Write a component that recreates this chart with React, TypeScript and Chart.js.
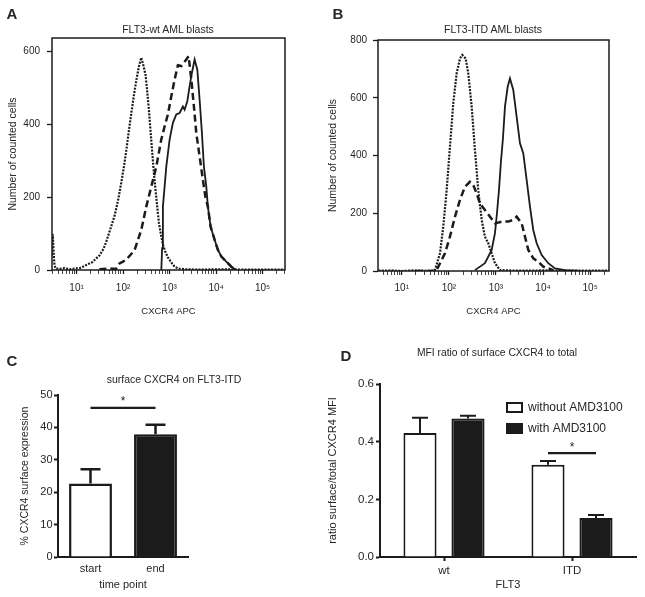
import React, { useEffect, useRef } from 'react';
import { Chart, registerables } from 'chart.js';

Chart.register(...registerables);

const FONT = "'Liberation Sans', Arial, Helvetica, sans-serif";
const INK = '#1b1b1b';
const TEXT = '#262626';
Chart.defaults.font.family = FONT;
Chart.defaults.color = TEXT;

// ---------- Panel A: FLT3-wt AML blasts (x = CXCR4 APC intensity, y = counted cells) ----------
const wtIsotypeX = [2.96, 3.08, 3.2, 3.35, 3.6, 4.3, 5.5, 7.1, 9.1, 11.6, 13.6, 22, 31, 38, 44, 54, 66, 79, 93, 106, 119, 134, 150, 170, 192, 218, 246, 275, 305, 330, 359, 390, 425, 460, 500, 545, 589, 650, 718, 810, 918, 1100, 1282, 1600, 2104, 4400, 12000, 50000, 300000];
const wtIsotypeY = [40, 98, 50, 12, 4, 3, 5, 2, 4, 5, 9, 22, 40, 58, 80, 115, 150, 195, 245, 290, 335, 385, 430, 478, 520, 558, 583, 560, 535, 490, 440, 380, 320, 265, 218, 170, 130, 98, 70, 50, 35, 20, 9, 4, 2, 1, 2, 1, 1];
const wtDashedX = [31, 51, 70, 84, 117, 177, 246, 315, 404, 518, 662, 780, 918, 1088, 1282, 1508, 1785, 2286, 2563, 2930, 3334, 3750, 4416, 5200, 5860, 6650, 7620, 9290, 10940, 12950, 16570, 21210, 27170];
const wtDashedY = [2, 4, 3, 18, 28, 55, 110, 174, 229, 284, 358, 394, 427, 477, 523, 562, 560, 578, 587, 523, 449, 376, 312, 248, 202, 174, 119, 83, 55, 37, 23, 9, 0];
const wtSolidX = [664, 690, 718, 849, 1000, 1178, 1393, 1641, 1933, 2104, 2403, 2693, 3017, 3451, 3945, 4416, 4955, 5470, 6152, 6650, 7620, 9290, 10940, 12950, 16570, 21210, 27170];
const wtSolidY = [0, 60, 174, 284, 358, 404, 427, 431, 449, 440, 463, 505, 541, 578, 550, 468, 376, 284, 229, 174, 119, 83, 55, 37, 23, 9, 0];

// ---------- Panel B: FLT3-ITD AML blasts ----------
const itdIsotypeX = [3.2, 6, 10, 18, 30, 46, 50.7, 64.7, 76, 89.8, 105.4, 124, 146.5, 172, 192.8, 227.5, 258, 305, 358, 421, 497, 583, 687, 811, 953, 1216, 3000, 10000, 50000, 250000];
const itdIsotypeY = [1, 2, 0, 2, 1, 0, 3, 61, 153, 280, 430, 581, 685, 736, 748, 736, 685, 569, 419, 280, 177, 119, 96, 61, 27, 3, 1, 2, 1, 1];
const itdDashedX = [20, 40, 55, 82.6, 105.4, 134.9, 172, 219.6, 280.5, 329.6, 389, 457, 583, 747, 953, 1322, 1824, 2328, 2748, 3514, 4130, 4853, 6199, 7907, 10090, 12880, 16480];
const itdDashedY = [0, 0, 3, 61, 119, 188, 246, 292, 309, 298, 269, 234, 211, 188, 165, 171, 171, 177, 188, 165, 119, 73, 44, 32, 15, 9, 3];
const itdSolidX = [358, 583, 811, 953, 1050, 1158, 1277, 1408, 1553, 1772, 1983, 2330, 2751, 3233, 3798, 4486, 5273, 6195, 7313, 9339, 12895, 17890, 29170, 60740];
const itdSolidY = [3, 27, 73, 131, 200, 280, 380, 460, 569, 638, 667, 627, 534, 442, 408, 315, 223, 142, 96, 55, 27, 9, 3, 0];

const wtCountTicks = [0, 200, 400, 600];
const itdCountTicks = [0, 200, 400, 600, 800];
const SUPERSCRIPT: Record<number, string> = { 1: '¹', 2: '²', 3: '³', 4: '⁴', 5: '⁵' };

// ---------- Panel C: surface CXCR4 on FLT3-ITD ----------
const timePoints = ['start', 'end'];
const surfaceExpression = [22.7, 37.9];
const surfaceExpressionSem = [4.4, 2.9];
const surfaceTicks = [0, 10, 20, 30, 40, 50];
const surfaceSignificance = 46;

// ---------- Panel D: MFI ratio of surface CXCR4 to total ----------
const flt3Groups = ['wt', 'ITD'];
const ratioWithout = [0.43, 0.32];
const ratioWithoutSem = [0.053, 0.013];
const ratioWith = [0.48, 0.135];
const ratioWithSem = [0.01, 0.011];
const ratioTicks = [0, 0.2, 0.4, 0.6];
const ratioSignificance = 0.36;

type XY = { x: number; y: number };
const zip = (xs: number[], ys: number[]): XY[] => xs.map((x, i) => ({ x, y: ys[i] }));

function logTickValues(min: number, max: number) {
  const out: { value: number; major: boolean }[] = [];
  for (let n = 0; n <= 6; n++) {
    for (let k = 1; k <= 9; k++) {
      const v = k * Math.pow(10, n);
      if (v >= min && v <= max) out.push({ value: v, major: k === 1 });
    }
  }
  return out;
}

const framePlugin = {
  id: 'frame',
  afterDatasetsDraw(chart: any) {
    const { ctx, chartArea } = chart;
    const { left, top, right, bottom } = chartArea;
    ctx.save();
    ctx.strokeStyle = INK;
    ctx.lineWidth = 1.5;
    ctx.strokeRect(left, top, right - left, bottom - top);
    ctx.restore();
  },
};

const errorBarPlugin = {
  id: 'errorBars',
  afterDatasetsDraw(chart: any, _args: any, opts: any) {
    const { ctx } = chart;
    const y = chart.scales.y;
    chart.data.datasets.forEach((ds: any, di: number) => {
      if (!ds.errors) return;
      const meta = chart.getDatasetMeta(di);
      meta.data.forEach((bar: any, i: number) => {
        const v = ds.data[i];
        const base = y.getPixelForValue(v);
        const top = y.getPixelForValue(v + ds.errors[i]);
        ctx.save();
        ctx.strokeStyle = INK;
        ctx.lineWidth = opts.width;
        ctx.beginPath();
        ctx.moveTo(bar.x, base);
        ctx.lineTo(bar.x, top);
        ctx.moveTo(bar.x - opts.cap / 2, top);
        ctx.lineTo(bar.x + opts.cap / 2, top);
        ctx.stroke();
        ctx.restore();
      });
    });
  },
};

const significancePlugin = {
  id: 'significance',
  afterDatasetsDraw(chart: any, _args: any, opts: any) {
    const { ctx } = chart;
    const y = chart.scales.y;
    (opts.brackets || []).forEach((b: any) => {
      const e1 = chart.getDatasetMeta(b.a[0]).data[b.a[1]];
      const e2 = chart.getDatasetMeta(b.b[0]).data[b.b[1]];
      const py = y.getPixelForValue(b.value);
      ctx.save();
      ctx.strokeStyle = INK;
      ctx.lineWidth = opts.lineWidth;
      ctx.beginPath();
      ctx.moveTo(e1.x, py);
      ctx.lineTo(e2.x, py);
      ctx.stroke();
      ctx.fillStyle = TEXT;
      ctx.font = `${opts.fontSize}px ${FONT}`;
      ctx.textAlign = 'center';
      ctx.textBaseline = 'alphabetic';
      ctx.fillText(b.label, (e1.x + e2.x) / 2, py + opts.labelOffset);
      ctx.restore();
    });
  },
};

const boxLegendPlugin = {
  id: 'boxLegend',
  afterDatasetsDraw(chart: any, _args: any, opts: any) {
    const { ctx, chartArea } = chart;
    chart.data.datasets.forEach((ds: any, i: number) => {
      const x = chartArea.left + opts.x;
      const y = chartArea.top + opts.y + i * opts.rowGap;
      ctx.save();
      ctx.fillStyle = ds.backgroundColor;
      ctx.fillRect(x, y, opts.boxW, opts.boxH);
      ctx.strokeStyle = INK;
      ctx.lineWidth = 2;
      ctx.strokeRect(x + 1, y + 1, opts.boxW - 2, opts.boxH - 2);
      ctx.fillStyle = TEXT;
      ctx.font = `${opts.fontSize}px ${FONT}`;
      ctx.textAlign = 'left';
      ctx.textBaseline = 'middle';
      ctx.fillText(ds.label, x + opts.boxW + opts.gap, y + opts.boxH / 2 + 0.5);
      ctx.restore();
    });
  },
};

function histogramConfig(p: any) {
  const lineBase = { showLine: true, borderColor: INK, pointRadius: 0, tension: 0, fill: false };
  return {
    type: 'scatter',
    data: {
      datasets: [
        { ...lineBase, label: 'isotype control', data: zip(p.dotX, p.dotY), borderWidth: 2.2, borderDash: [2, 1.3] },
        { ...lineBase, label: 'CXCR4 (dashed)', data: zip(p.dashX, p.dashY), borderWidth: 2.5, borderDash: [7, 4] },
        { ...lineBase, label: 'CXCR4 (solid)', data: zip(p.solidX, p.solidY), borderWidth: 1.8 },
      ],
    },
    options: {
      responsive: false,
      animation: false,
      devicePixelRatio: 1,
      events: [],
      layout: { padding: { top: p.padTop, right: p.padRight, left: 0, bottom: 0 } },
      plugins: { legend: { display: false }, tooltip: { enabled: false }, title: { display: false } },
      scales: {
        x: {
          type: 'logarithmic',
          min: p.xMin,
          max: p.xMax,
          afterBuildTicks: (s: any) => { s.ticks = logTickValues(p.xMin, p.xMax); },
          afterFit: (s: any) => { s.height = p.xHeight; },
          border: { display: false },
          grid: {
            drawOnChartArea: false,
            drawTicks: true,
            tickLength: 4,
            tickColor: INK,
            tickWidth: (c: any) => (c.tick && c.tick.major ? 1.3 : 0.8),
          },
          ticks: {
            autoSkip: false,
            maxRotation: 0,
            minRotation: 0,
            padding: p.xTickPad,
            font: { size: 10 },
            color: TEXT,
            callback: (value: any) => {
              const v = Number(value);
              const e = Math.round(Math.log10(v));
              return Math.abs(v - Math.pow(10, e)) < 1e-6 * v && SUPERSCRIPT[e] ? '10' + SUPERSCRIPT[e] : '';
            },
          },
          title: { display: true, text: 'CXCR4 APC', font: { size: 9.5 }, color: TEXT, padding: { top: 0, bottom: 8 } },
        },
        y: {
          type: 'linear',
          min: 0,
          max: p.yMax,
          afterBuildTicks: (s: any) => { s.ticks = p.yTicks.map((v: number) => ({ value: v })); },
          afterFit: (s: any) => { s.width = p.yWidth; },
          border: { display: false },
          grid: { drawOnChartArea: false, drawTicks: true, tickLength: 5, tickColor: INK, tickWidth: 1.3 },
          ticks: { padding: p.yTickPad, font: { size: 10 }, color: TEXT },
          title: { display: true, text: 'Number of counted cells', font: { size: 10.5 }, color: TEXT, padding: { top: 7, bottom: 0 } },
        },
      },
    },
    plugins: [framePlugin],
  };
}

function surfaceConfig() {
  return {
    type: 'bar',
    data: {
      labels: timePoints,
      datasets: [
        {
          label: '% CXCR4 surface expression',
          data: surfaceExpression,
          errors: surfaceExpressionSem,
          backgroundColor: ['#ffffff', INK],
          borderColor: INK,
          borderWidth: 2.5,
          borderSkipped: 'bottom',
          barPercentage: 0.66,
          categoryPercentage: 1,
        },
      ],
    },
    options: {
      responsive: false,
      animation: false,
      devicePixelRatio: 1,
      events: [],
      layout: { padding: { top: 65, right: 132, left: 0, bottom: 0 } },
      plugins: {
        legend: { display: false },
        tooltip: { enabled: false },
        errorBars: { cap: 20, width: 2.5 },
        significance: { lineWidth: 2.2, fontSize: 12, labelOffset: -3, brackets: [{ a: [0, 0], b: [0, 1], value: surfaceSignificance, label: '*' }] },
      },
      scales: {
        x: {
          afterFit: (s: any) => { s.height = 40; },
          border: { display: true, width: 2, color: INK },
          grid: { offset: false, drawOnChartArea: false, tickLength: 4, tickColor: 'rgba(0,0,0,0)' },
          ticks: { padding: 1.5, font: { size: 11 }, color: TEXT },
          title: { display: true, text: 'time point', font: { size: 11 }, color: TEXT, padding: { top: 0, bottom: 5.4 } },
        },
        y: {
          min: 0,
          max: 50,
          afterBuildTicks: (s: any) => { s.ticks = surfaceTicks.map((v) => ({ value: v })); },
          afterFit: (s: any) => { s.width = 58; },
          border: { display: true, width: 2, color: INK },
          grid: { drawOnChartArea: false, tickLength: 4, tickColor: INK, tickWidth: 2 },
          ticks: { padding: 1.5, font: { size: 11 }, color: TEXT },
          title: { display: true, text: '% CXCR4 surface expression', font: { size: 10.5 }, color: TEXT, padding: { top: 18.7, bottom: 0 } },
        },
      },
    },
    plugins: [errorBarPlugin, significancePlugin],
  };
}

function ratioConfig() {
  const barBase = { borderColor: INK, borderWidth: 2, borderSkipped: 'bottom', barPercentage: 0.69, categoryPercentage: 0.75 };
  return {
    type: 'bar',
    data: {
      labels: flt3Groups,
      datasets: [
        { ...barBase, label: 'without AMD3100', data: ratioWithout, errors: ratioWithoutSem, backgroundColor: '#ffffff' },
        { ...barBase, label: 'with AMD3100', data: ratioWith, errors: ratioWithSem, backgroundColor: INK },
      ],
    },
    options: {
      responsive: false,
      animation: false,
      devicePixelRatio: 1,
      events: [],
      layout: { padding: { top: 54, right: 9, left: 0, bottom: 0 } },
      plugins: {
        legend: { display: false },
        tooltip: { enabled: false },
        errorBars: { cap: 16, width: 2 },
        significance: { lineWidth: 2.2, fontSize: 12, labelOffset: -2, brackets: [{ a: [0, 1], b: [1, 1], value: ratioSignificance, label: '*' }] },
        boxLegend: { x: 126, y: 18, rowGap: 21, boxW: 17, boxH: 11, gap: 5, fontSize: 12 },
      },
      scales: {
        x: {
          afterFit: (s: any) => { s.height = 40; },
          border: { display: true, width: 2, color: INK },
          grid: { offset: false, drawOnChartArea: false, tickLength: 4, tickColor: INK, tickWidth: 2 },
          ticks: { padding: 3.1, font: { size: 11.5 }, color: TEXT },
          title: { display: true, text: 'FLT3', font: { size: 11 }, color: TEXT, padding: { top: 0, bottom: 5.4 } },
        },
        y: {
          min: 0,
          max: 0.6,
          afterBuildTicks: (s: any) => { s.ticks = ratioTicks.map((v) => ({ value: v })); },
          afterFit: (s: any) => { s.width = 60; },
          border: { display: true, width: 2, color: INK },
          grid: { drawOnChartArea: false, tickLength: 4, tickColor: INK, tickWidth: 2 },
          ticks: { padding: 2, font: { size: 11.5 }, color: TEXT, callback: (v: any) => Number(v).toFixed(1) },
          title: { display: true, text: 'ratio surface/total CXCR4 MFI', font: { size: 11 }, color: TEXT, padding: { top: 6.4, bottom: 0 } },
        },
      },
    },
    plugins: [errorBarPlugin, significancePlugin, boxLegendPlugin],
  };
}

function Panel(props: { left: number; top: number; width: number; height: number; make: () => any }) {
  const ref = useRef<HTMLCanvasElement | null>(null);
  useEffect(() => {
    if (!ref.current) return;
    const chart = new Chart(ref.current, props.make());
    return () => chart.destroy();
  }, []);
  return (
    <canvas
      ref={ref}
      width={props.width}
      height={props.height}
      style={{ position: 'absolute', left: props.left, top: props.top, width: props.width, height: props.height }}
    />
  );
}

const textLabels = [
  { text: 'A', x: 12, y: 13, size: 15, bold: true },
  { text: 'B', x: 338, y: 13, size: 15, bold: true },
  { text: 'C', x: 12, y: 360, size: 15, bold: true },
  { text: 'D', x: 346, y: 355, size: 15, bold: true },
  { text: 'FLT3-wt AML blasts', x: 168, y: 29, size: 10.5, bold: false },
  { text: 'FLT3-ITD AML blasts', x: 493, y: 29, size: 10.5, bold: false },
  { text: 'surface CXCR4 on FLT3-ITD', x: 174, y: 379, size: 10.5, bold: false },
  { text: 'MFI ratio of surface CXCR4 to total', x: 497, y: 353, size: 10.3, bold: false },
];

export default function App() {
  return (
    <div style={{ position: 'fixed', left: 0, top: 0, width: 645, height: 597, background: '#ffffff', overflow: 'hidden' }}>
      <Panel
        left={0}
        top={0}
        width={320}
        height={325}
        make={() =>
          histogramConfig({
            dotX: wtIsotypeX, dotY: wtIsotypeY, dashX: wtDashedX, dashY: wtDashedY, solidX: wtSolidX, solidY: wtSolidY,
            xMin: 2.96, xMax: 303000, yMax: 637, yTicks: wtCountTicks,
            padTop: 38, padRight: 35, yWidth: 52, xHeight: 55, xTickPad: 8, yTickPad: 7,
          })
        }
      />
      <Panel
        left={320}
        top={0}
        width={325}
        height={325}
        make={() =>
          histogramConfig({
            dotX: itdIsotypeX, dotY: itdIsotypeY, dashX: itdDashedX, dashY: itdDashedY, solidX: itdSolidX, solidY: itdSolidY,
            xMin: 3.13, xMax: 251000, yMax: 800, yTicks: itdCountTicks,
            padTop: 40, padRight: 36, yWidth: 58, xHeight: 54, xTickPad: 7, yTickPad: 6,
          })
        }
      />
      <Panel left={0} top={330} width={320} height={267} make={surfaceConfig} />
      <Panel left={320} top={330} width={325} height={267} make={ratioConfig} />
      {textLabels.map((t) => (
        <div
          key={t.text}
          style={{
            position: 'absolute',
            left: t.x,
            top: t.y,
            transform: 'translate(-50%, -50%)',
            whiteSpace: 'nowrap',
            fontFamily: FONT,
            fontSize: t.size,
            fontWeight: t.bold ? 700 : 400,
            lineHeight: 1,
            color: TEXT,
          }}
        >
          {t.text}
        </div>
      ))}
    </div>
  );
}
